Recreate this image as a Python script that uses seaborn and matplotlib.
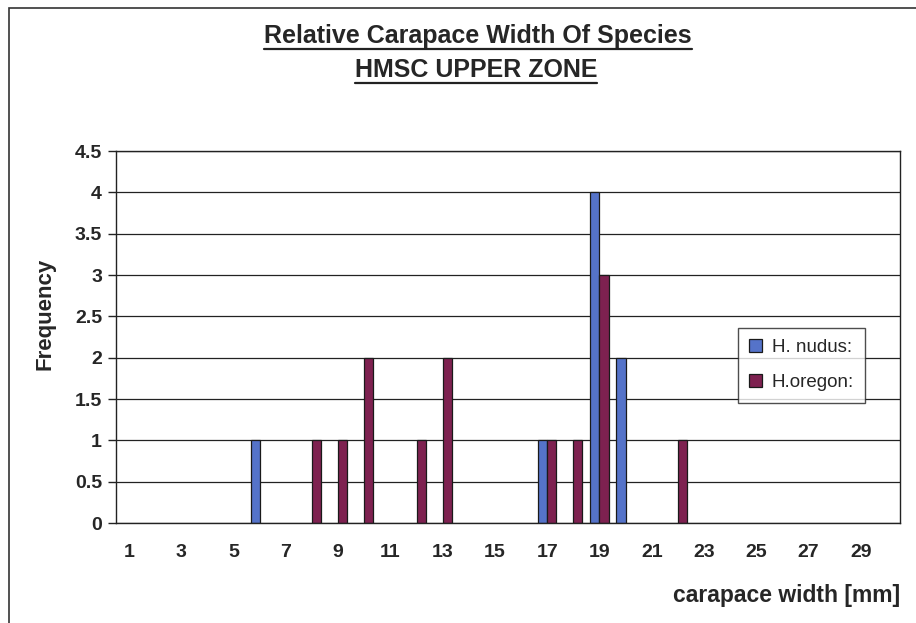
import numpy as np
import pandas as pd
import seaborn as sns
import matplotlib.pyplot as plt
from matplotlib.patches import Rectangle
from matplotlib.lines import Line2D

# ---- data ----
widths = list(range(1, 31))
h_nudus = [0, 0, 0, 0, 0, 1, 0, 0, 0, 0,
           0, 0, 0, 0, 0, 0, 1, 0, 4, 2,
           0, 0, 0, 0, 0, 0, 0, 0, 0, 0]
h_oregon = [0, 0, 0, 0, 0, 0, 0, 1, 1, 2,
            0, 1, 2, 0, 0, 0, 1, 1, 3, 0,
            0, 1, 0, 0, 0, 0, 0, 0, 0, 0]
series = ["H. nudus:", "H.oregon:"]
colors = ["#5573C9", "#7E2150"]
yticks = [0, 0.5, 1, 1.5, 2, 2.5, 3, 3.5, 4, 4.5]
ytick_labels = ["0", "0.5", "1", "1.5", "2", "2.5", "3", "3.5", "4", "4.5"]
title_lines = ["Relative Carapace Width Of Species", "HMSC UPPER ZONE"]
xlabel = "carapace width [mm]"
ylabel = "Frequency"

rows = []
for s, vals in zip(series, [h_nudus, h_oregon]):
    for w, v in zip(widths, vals):
        if v > 0:
            rows.append({"width": str(w), "species": s, "freq": v})
df = pd.DataFrame(rows)
order = [str(w) for w in widths]

sns.set_theme(style="white")
plt.rcParams['font.family'] = ['Liberation Sans', 'DejaVu Sans']

W, H = 916, 623
fig = plt.figure(figsize=(W / 100, H / 100), dpi=100)
fig.patch.set_facecolor("white")
L, R, T, B = 116, 900, 151, 523
ax = fig.add_axes([L / W, 1 - B / H, (R - L) / W, (B - T) / H])

sns.barplot(data=df, x="width", y="freq", hue="species", order=order,
            hue_order=series, palette=colors, width=0.7, saturation=1,
            edgecolor="#1a1a1a", linewidth=0.9, ax=ax, errorbar=None)

ax.set_xlim(-0.5, len(widths) - 0.5)
ax.set_ylim(0, 4.5)
ax.set_yticks(yticks)
ax.set_yticklabels(ytick_labels, fontsize=14, fontweight="bold")
major = [i for i, w in enumerate(widths) if w % 2 == 1]
ax.set_xticks(major)
ax.set_xticklabels([str(widths[i]) for i in major], fontsize=14, fontweight="bold")
ax.set_xticks(np.arange(-0.5, len(widths), 1), minor=True)
ax.tick_params(axis="x", which="major", length=0, pad=15)
ax.tick_params(axis="x", which="minor", length=5, width=1, color="#222", direction="out")
ax.tick_params(axis="y", length=6, width=1, color="#222", direction="out", pad=4, left=True)
ax.yaxis.grid(True, color="#222", linewidth=0.9)
ax.xaxis.grid(False)
ax.set_axisbelow(True)
for sp in ax.spines.values():
    sp.set_visible(True)
    sp.set_color("#222")
    sp.set_linewidth(1.0)

ax.set_xlabel(xlabel, fontsize=16.5, fontweight="bold", ha="right")
ax.xaxis.set_label_coords(1.0, -0.165)
ax.set_ylabel(ylabel, fontsize=16, fontweight="bold")
ax.yaxis.set_label_coords((56 - L) / (R - L), (B - 314) / (B - T))

leg = ax.legend(loc="upper left", bbox_to_anchor=(738 / W, 1 - 328 / H),
                bbox_transform=fig.transFigure, borderaxespad=0,
                frameon=True, fancybox=False, shadow=False,
                fontsize=13.5, handlelength=0.7, handleheight=0.7,
                handletextpad=0.5, labelspacing=0.95, borderpad=0.6,
                title=None)
leg.get_frame().set_edgecolor("#222")
leg.get_frame().set_linewidth(1.0)

# titles with underline
t1 = fig.text(478 / W, 1 - 36 / H, title_lines[0], ha="center", va="center",
              fontsize=18, fontweight="bold")
t2 = fig.text(476 / W, 1 - 70 / H, title_lines[1], ha="center", va="center",
              fontsize=18, fontweight="bold")
fig.canvas.draw()
rend = fig.canvas.get_renderer()
for t in (t1, t2):
    bb = t.get_window_extent(renderer=rend)
    y = (bb.y0 - 1) / H
    fig.add_artist(Line2D([bb.x0 / W, bb.x1 / W], [y, y], transform=fig.transFigure,
                          color="#222", linewidth=1.6))

# chart area border
fig.add_artist(Rectangle((9 / W, -0.05), 1.1, (1 - 8 / H) + 0.05,
                         transform=fig.transFigure, fill=False,
                         edgecolor="#333", linewidth=1.2))

fig.savefig("out.png", dpi=100)
